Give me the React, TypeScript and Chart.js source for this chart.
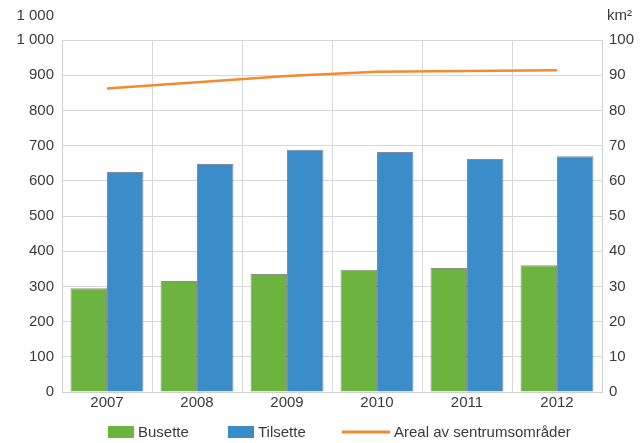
import React, { useEffect, useRef } from "react";
import { Chart, registerables } from "chart.js";

Chart.register(...registerables);

const years = ["2007", "2008", "2009", "2010", "2011", "2012"];
const busette = [295, 315, 335, 347, 352, 360];
const tilsette = [625, 648, 688, 682, 662, 670];
const areal = [86.2, 88.0, 89.8, 91.0, 91.2, 91.4];
const leftAxisTitle = "1 000";
const rightAxisTitle = "km²";
const seriesNames = ["Busette", "Tilsette", "Areal av sentrumsområder"];

const FONT = "'Liberation Sans', Arial, sans-serif";
const TEXT = "#3a3a3a";

const fmt = (v: number) => {
  const s = String(Math.round(v));
  return s.replace(/\B(?=(\d{3})+(?!\d))/g, " ");
};

const cornerTitles = {
  id: "cornerTitles",
  afterDraw(chart: any) {
    const { ctx, chartArea } = chart;
    ctx.save();
    ctx.font = `15px ${FONT}`;
    ctx.fillStyle = TEXT;
    ctx.textBaseline = "middle";
    ctx.textAlign = "right";
    ctx.fillText(leftAxisTitle, chartArea.left - 8, 16);
    ctx.textAlign = "left";
    ctx.fillText(rightAxisTitle, chartArea.right + 5, 16);
    ctx.restore();
  },
};

// Custom legend: bar items as boxes, line item as a longer stroke
const customLegend = {
  id: "customLegend",
  afterDraw(chart: any) {
    const { ctx } = chart;
    const ds = chart.data.datasets;
    const order = [1, 2, 0];
    const starts = [108, 228, 342];
    const boxW = 26;
    const boxH = 12;
    const lineW = 48;
    const textGap = 4;
    ctx.save();
    ctx.font = `15px ${FONT}`;
    ctx.textBaseline = "middle";
    const y = 432;
    order.forEach((i, k) => {
      const d = ds[i];
      const isLine = d.type === "line";
      const sw = isLine ? lineW : boxW;
      const x = starts[k];
      if (isLine) {
        ctx.strokeStyle = d.borderColor;
        ctx.lineWidth = 3;
        ctx.beginPath();
        ctx.moveTo(x, y);
        ctx.lineTo(x + sw, y);
        ctx.stroke();
      } else {
        ctx.fillStyle = d.backgroundColor;
        ctx.fillRect(x, y - boxH / 2, sw, boxH);
      }
      ctx.fillStyle = TEXT;
      ctx.textAlign = "left";
      ctx.fillText(d.label, x + sw + textGap, y + 1);
    });
    ctx.restore();
  },
};

export default function App() {
  const ref = useRef<HTMLCanvasElement | null>(null);
  useEffect(() => {
    document.body.style.margin = "0";
    const canvas = ref.current!;
    const chart = new Chart(canvas, {
      type: "bar",
      data: {
        labels: years,
        datasets: [
          {
            type: "line",
            label: seriesNames[2],
            data: areal,
            yAxisID: "y1",
            borderColor: "#f28a2e",
            backgroundColor: "#f28a2e",
            borderWidth: 2.5,
            pointRadius: 0,
            tension: 0,
            order: 0,
          } as any,
          {
            label: seriesNames[0],
            data: busette,
            yAxisID: "y",
            backgroundColor: "#6cb33f",
            borderColor: "rgba(40,60,30,0.55)",
            borderWidth: 1,
            order: 1,
          },
          {
            label: seriesNames[1],
            data: tilsette,
            yAxisID: "y",
            backgroundColor: "#3a8dc9",
            borderColor: "rgba(20,50,80,0.55)",
            borderWidth: 1,
            order: 1,
          },
        ],
      },
      options: {
        animation: false,
        responsive: false,
        maintainAspectRatio: false,
        datasets: {
          bar: { categoryPercentage: 0.81, barPercentage: 1 },
        } as any,
        layout: { padding: { top: 40, left: 0, right: 0, bottom: 24 } },
        plugins: {
          tooltip: { enabled: false },
          legend: { display: false },
        },
        scales: {
          x: {
            grid: { color: "#d8d8d8", offset: true, drawTicks: false },
            border: { color: "#d0d0d0" },
            ticks: { font: { family: FONT, size: 15 }, color: TEXT, padding: 2 },
            afterFit: (s: any) => {
              s.height = 27;
            },
          },
          y: {
            min: 0,
            max: 1000,
            ticks: {
              stepSize: 100,
              font: { family: FONT, size: 15 },
              color: TEXT,
              padding: 8,
              callback: (v: any) => fmt(Number(v)),
            },
            grid: { color: "#d8d8d8", drawTicks: false },
            border: { color: "#d0d0d0" },
            afterFit: (s: any) => {
              s.width = 62;
            },
          },
          y1: {
            position: "right",
            min: 0,
            max: 100,
            ticks: {
              stepSize: 10,
              font: { family: FONT, size: 15 },
              color: TEXT,
              padding: 7,
            },
            grid: { drawOnChartArea: false, drawTicks: false },
            border: { color: "#d0d0d0" },
            afterFit: (s: any) => {
              s.width = 40;
            },
          },
        },
      },
      plugins: [cornerTitles, customLegend],
    });
    return () => chart.destroy();
  }, []);
  return (
    <div style={{ width: 642, height: 443 }}>
      <canvas ref={ref} width={642} height={443} style={{ width: 642, height: 443, display: "block" }} />
    </div>
  );
}
